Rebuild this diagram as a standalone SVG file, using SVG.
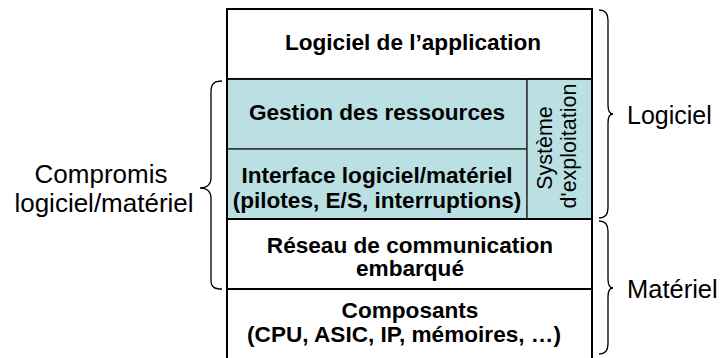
<svg xmlns="http://www.w3.org/2000/svg" width="721" height="358" viewBox="0 0 721 358">
<style>
text{font-family:"Liberation Sans",Arial,sans-serif;fill:#000}
.b{font-weight:bold;font-size:22.6px;text-anchor:middle}
.r{font-size:21.5px;text-anchor:middle}
.l{font-size:26px}
.teal{fill:#BBE0E3;stroke:#333;stroke-width:1.5}
.brace{fill:none;stroke:#000;stroke-width:1.3}
</style>
<rect x="0" y="0" width="721" height="358" fill="#fff"/>
<g id="app">
<rect x="227" y="9" width="365" height="70" fill="#fff" stroke="#000" stroke-width="2"/>
<text class="b" x="413" y="50">Logiciel de l’application</text>
</g>
<g id="gestion">
<rect class="teal" x="227" y="79" width="300" height="70"/>
<text class="b" x="377" y="120">Gestion des ressources</text>
</g>
<g id="interface">
<rect class="teal" x="227" y="149" width="300" height="70"/>
<text class="b" x="377" y="183">Interface logiciel/matériel</text>
<text class="b" x="377" y="208">(pilotes, E/S, interruptions)</text>
</g>
<g id="os">
<rect class="teal" x="527" y="79" width="65" height="140"/>
<text class="r" transform="translate(552,148) rotate(-90)">Système</text>
<text class="r" transform="translate(576,146) rotate(-90)">d'exploitation</text>
</g>
<g id="reseau">
<rect x="227" y="219" width="365" height="70" fill="#fff" stroke="#000" stroke-width="2"/>
<text class="b" x="410" y="253">Réseau de communication</text>
<text class="b" x="410" y="276">embarqué</text>
</g>
<g id="composants">
<rect x="227" y="289" width="365" height="75" fill="#fff" stroke="#000" stroke-width="2"/>
<text class="b" x="410" y="318">Composants</text>
<text class="b" x="404" y="342">(CPU, ASIC, IP, mémoires, …)</text>
</g>
<g id="outline">
<line x1="227" y1="9" x2="227" y2="358" stroke="#000" stroke-width="2"/>
<line x1="592" y1="9" x2="592" y2="358" stroke="#000" stroke-width="2"/>
<line x1="227" y1="79" x2="592" y2="79" stroke="#000" stroke-width="1.5"/>
<line x1="227" y1="219" x2="592" y2="219" stroke="#000" stroke-width="2"/>
</g>
<g id="connectors">
<path class="brace" d="M222,81 C214,81 211,84 211,92 L211,178 C211,185 206,188 200,188 C206,188 211,191 211,198 L211,280 C211,287 214,289 222,289"/>
<path class="brace" d="M599,10 C605,10 608,13 608,20 L608,105 C608,111 610,114 613,114 C610,114 608,117 608,123 L608,208 C608,215 605,218 599,218"/>
<path class="brace" d="M599,221 C605,221 608,224 608,231 L608,279 C608,285 610,288 613,288 C610,288 608,291 608,297 L608,344 C608,351 605,354 599,354"/>
</g>
<g id="labels">
<text class="l" x="101" y="183" text-anchor="middle">Compromis</text>
<text class="l" x="104" y="212" text-anchor="middle">logiciel/matériel</text>
<text class="l" x="627" y="124" style="font-size:25px">Logiciel</text>
<text class="l" x="627" y="298" style="font-size:25.5px">Matériel</text>
</g>
</svg>
